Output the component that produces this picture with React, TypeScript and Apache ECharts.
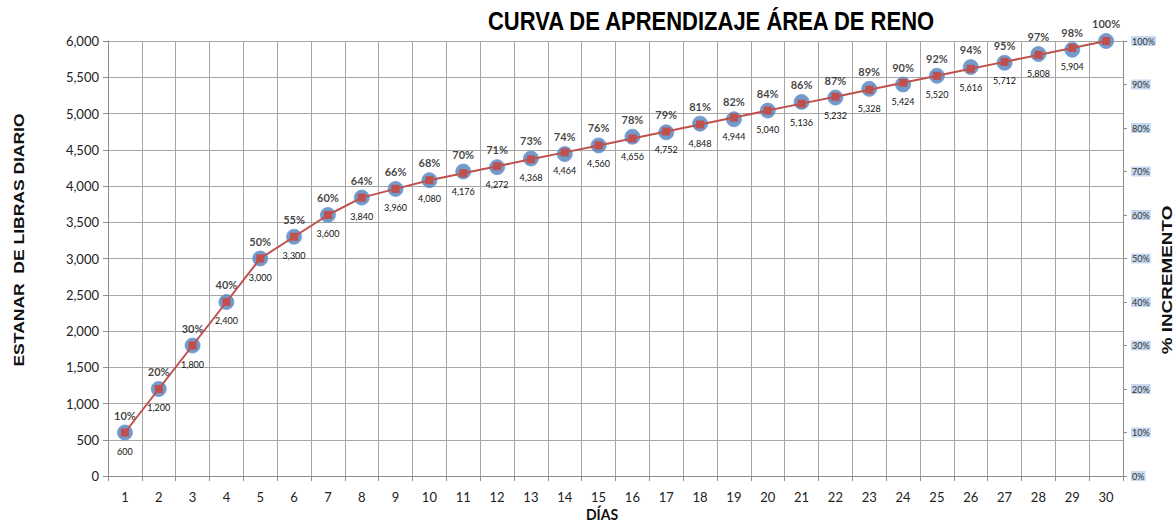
import React, { useEffect, useRef } from "react";
import * as echarts from "echarts";

const days = ["1","2","3","4","5","6","7","8","9","10","11","12","13","14","15","16","17","18","19","20","21","22","23","24","25","26","27","28","29","30"];
const libras = [600,1200,1800,2400,3000,3300,3600,3840,3960,4080,4176,4272,4368,4464,4560,4656,4752,4848,4944,5040,5136,5232,5328,5424,5520,5616,5712,5808,5904,6000];
const incremento = [10,20,30,40,50,55,60,64,66,68,70,71,73,74,76,78,79,81,82,84,86,87,89,90,92,94,95,97,98,100];

const titleText = "CURVA DE APRENDIZAJE ÁREA DE RENO";
const leftName = "ESTANAR  DE LIBRAS DIARIO";
const rightName = "% INCREMENTO";
const xName = "DÍAS";

export default function App() {
  const ref = useRef<HTMLDivElement>(null);
  useEffect(() => {
    if (!ref.current) return;
    const chart = echarts.init(ref.current, undefined, { renderer: "svg", width: 1176, height: 525 });
    const fmt = (v: number) => v.toLocaleString("en-US");
    const lastIdx = libras.length - 1;
    chart.setOption({
      animation: false,
      backgroundColor: "#ffffff",
      grid: { left: 108, top: 41, right: 53, bottom: 49, containLabel: false },
      xAxis: {
        type: "category",
        data: days,
        boundaryGap: true,
        axisLine: { lineStyle: { color: "#8c8c8c", width: 1 } },
        axisTick: { show: true, inside: false, length: 5, alignWithLabel: false, lineStyle: { color: "#8c8c8c" } },
        axisLabel: { fontFamily: "Lato, Noto Sans", fontSize: 13, color: "#222", margin: 14 },
        splitLine: { show: true, lineStyle: { color: "#a6a6a6", width: 1 } },
      },
      yAxis: [
        {
          type: "value",
          min: 0,
          max: 6000,
          interval: 500,
          axisLine: { show: true, lineStyle: { color: "#8c8c8c" } },
          axisTick: { show: true, length: 5, lineStyle: { color: "#8c8c8c" } },
          axisLabel: { fontFamily: "Lato, Noto Sans", fontSize: 13, color: "#222", margin: 9, formatter: (v: number) => fmt(v) },
          splitLine: { show: true, lineStyle: { color: "#a6a6a6", width: 1 } },
        },
        {
          type: "value",
          min: 0,
          max: 100,
          interval: 10,
          position: "right",
          axisLine: { show: true, lineStyle: { color: "#8c8c8c" } },
          axisTick: { show: true, length: 4, lineStyle: { color: "#8c8c8c" } },
          axisLabel: {
            fontFamily: "Lato, Noto Sans",
            fontSize: 9,
            color: "#333",
            margin: 8,
            backgroundColor: "#c6d9f1",
            padding: [1, 1, 0, 1],
            formatter: (v: number) => v + "%",
          },
          splitLine: { show: false },
        },
      ],
      graphic: [
        {
          type: "text",
          x: 711,
          y: 21,
          scaleY: 1.15,
          style: {
            text: titleText,
            font: "bold 22px Liberation Sans, Arial",
            fill: "#000",
            align: "center",
            verticalAlign: "middle",
          },
        },
        {
          type: "text",
          x: 19,
          y: 240,
          rotation: Math.PI / 2,
          scaleX: 1.25,
          style: {
            text: leftName,
            font: "bold 14px Liberation Sans, Arial",
            fill: "#111",
            align: "center",
            verticalAlign: "middle",
          },
        },
        {
          type: "text",
          x: 1167,
          y: 280,
          rotation: Math.PI / 2,
          scaleX: 1.35,
          style: {
            text: rightName,
            font: "bold 14px Liberation Sans, Arial",
            fill: "#111",
            align: "center",
            verticalAlign: "middle",
          },
        },
        {
          type: "text",
          x: 602,
          y: 514,
          scaleY: 1.1,
          style: {
            text: xName,
            font: "bold 14px Lato, Noto Sans",
            fill: "#111",
            align: "center",
            verticalAlign: "middle",
          },
        },
      ],
      series: [
        {
          name: "incremento",
          type: "scatter",
          yAxisIndex: 1,
          data: incremento,
          symbol: "circle",
          symbolSize: 15,
          itemStyle: { color: "#4f81bd", borderColor: "#6f9bd1", borderWidth: 1 },
          label: {
            show: true,
            position: "top",
            distance: 4,
            formatter: (p: any) => p.value + "%",
            fontFamily: "Lato, Noto Sans",
            fontWeight: "bold",
            fontSize: 11,
            color: "#111",
          },
          z: 2,
        },
        {
          name: "libras",
          type: "line",
          yAxisIndex: 0,
          data: libras.map((v, i) => (i === lastIdx ? { value: v, label: { show: false } } : v)),
          symbol: "rect",
          symbolSize: 8,
          showAllSymbol: true,
          lineStyle: { color: "#c0504d", width: 2 },
          itemStyle: { color: "#c0504d" },
          label: {
            show: true,
            position: "bottom",
            distance: 10,
            formatter: (p: any) => fmt(p.value),
            fontFamily: "Lato, Noto Sans",
            fontSize: 9,
            color: "#111",
          },
          z: 3,
        },
      ],
    });
    return () => chart.dispose();
  }, []);
  return <div ref={ref} style={{ width: 1176, height: 525, position: "absolute", left: 0, top: 0 }} />;
}
